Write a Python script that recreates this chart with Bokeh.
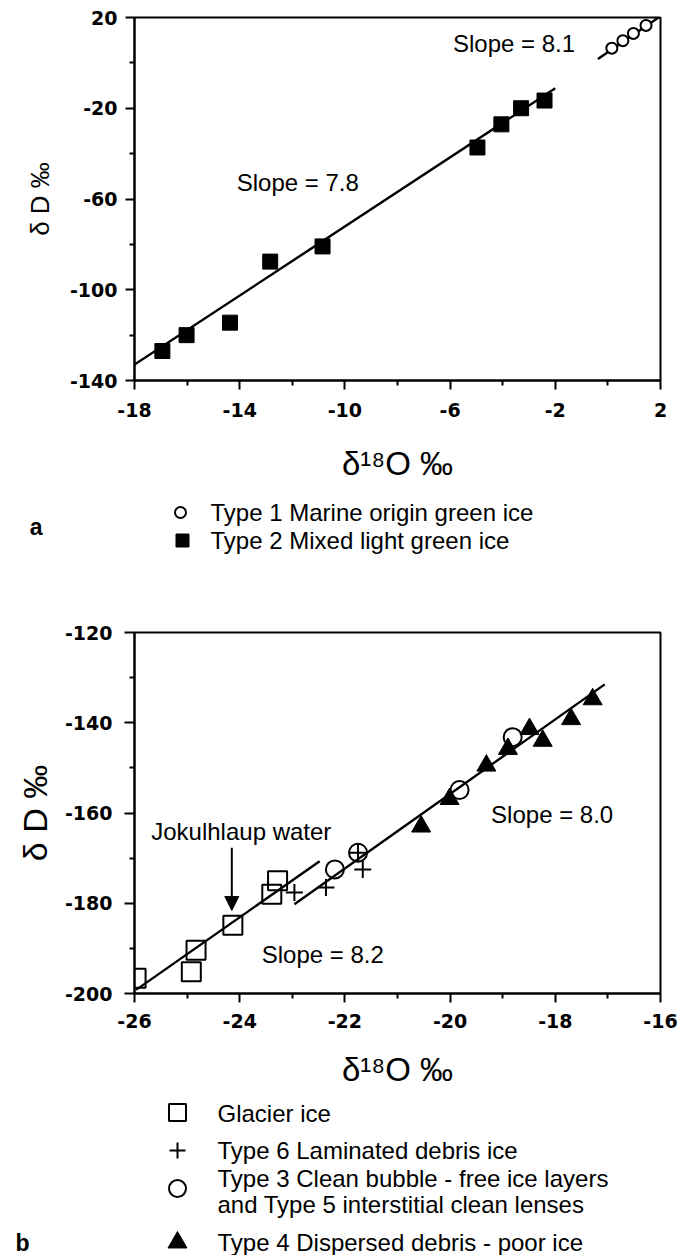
from bokeh.plotting import figure
from bokeh.models import Range1d, FixedTicker, Arrow, NormalHead, Label, LinearAxis
from bokeh.layouts import column
from bokeh.embed import file_html
from bokeh.resources import INLINE
from bokeh.core.properties import value

# ---------------- Panel a data ----------------
a_type1_x = [0.15, 0.57, 0.97, 1.45]          # Type 1 Marine origin green ice
a_type1_y = [6.5, 9.8, 13.0, 16.5]
a_type2_x = [-16.94, -16.02, -14.37, -12.84, -10.85, -4.96, -4.05, -3.30, -2.41]  # Type 2
a_type2_y = [-127.0, -120.0, -114.5, -87.6, -80.9, -37.3, -27.1, -20.0, -16.6]
a_fit78_x = [-18.0, -2.0]
a_fit78_y = [-133.0, -11.2]
a_fit81_x = [-0.38, 1.94]
a_fit81_y = [1.7, 20.1]
a_xticks = [-18, -14, -10, -6, -2, 2]
a_xminor = [-16, -12, -8, -4, 0]
a_yticks = [-140, -100, -60, -20, 20]
a_yminor = [-120, -80, -40, 0]
a_legend_labels = ["Type 1 Marine origin green ice", "Type 2 Mixed light green ice"]

# ---------------- Panel b data ----------------
b_glacier_x = [-23.28, -23.39, -24.13, -24.83, -24.92, -25.97]
b_glacier_y = [-175.0, -178.0, -184.9, -190.4, -195.2, -196.6]
b_type6_x = [-21.66, -21.75, -22.36, -22.96]
b_type6_y = [-172.5, -168.8, -176.5, -177.6]
b_type35_x = [-18.81, -19.82, -21.75, -22.19]
b_type35_y = [-143.2, -154.9, -168.8, -172.5]
b_type4_x = [-17.29, -17.70, -18.24, -18.49, -18.90, -19.31, -20.01, -20.55]
b_type4_y = [-134.8, -139.2, -144.0, -141.4, -145.8, -149.5, -156.9, -163.0]
b_fit80_x = [-22.96, -17.06]
b_fit80_y = [-180.2, -131.5]
b_fit82_x = [-25.97, -22.48]
b_fit82_y = [-199.2, -170.7]
b_xticks = [-26, -24, -22, -20, -18, -16]
b_xminor = [-25, -23, -21, -19, -17]
b_yticks = [-200, -180, -160, -140, -120]
b_yminor = [-190, -170, -150, -130]
b_legend_labels = ["Glacier ice", "Type 6 Laminated debris ice",
                   "Type 3 Clean bubble - free ice layers",
                   "and  Type 5 interstitial clean lenses",
                   "Type 4 Dispersed debris - poor ice"]

FONT = "Liberation Sans"
TICKFONT = "DejaVu Sans"
W = 684
BL, BR = 134, 24          # common left / right borders (frames are aligned in the column)
LW = 2.4


def style(p, xt, xm, yt, ym):
    p.grid.visible = False
    p.outline_line_color = "black"
    p.outline_line_width = 2
    p.background_fill_color = "white"
    p.border_fill_color = "white"
    p.xaxis.ticker = FixedTicker(ticks=xt, minor_ticks=xm)
    p.yaxis.ticker = FixedTicker(ticks=yt, minor_ticks=ym)
    p.xaxis.major_label_overrides = {t: str(t) for t in xt}
    p.yaxis.major_label_overrides = {t: str(t) for t in yt}
    for ax in list(p.xaxis) + list(p.yaxis):
        ax.axis_line_width = 2
        ax.axis_line_color = "black"
        ax.major_tick_line_width = 2
        ax.minor_tick_line_width = 2
        ax.major_tick_in = 0
        ax.major_tick_out = 9
        ax.minor_tick_in = 0
        ax.minor_tick_out = 5
        ax.major_label_text_font = TICKFONT
        ax.major_label_text_font_style = "bold"
        ax.major_label_text_font_size = "19px"
        ax.major_label_text_color = "black"
        ax.axis_label_text_font = FONT
        ax.axis_label_text_font_style = "normal"
        ax.axis_label_text_color = "black"


def blank(h, letter, letter_y, standoff):
    f = figure(width=W, height=h, x_range=Range1d(BL, W - BR), y_range=Range1d(h, 0),
               output_backend="svg", toolbar_location=None,
               min_border_left=BL, min_border_right=BR, min_border_top=0, min_border_bottom=0,
               x_axis_type=None, y_axis_type=None)
    f.grid.visible = False
    f.outline_line_color = None
    f.background_fill_color = "white"
    f.border_fill_color = "white"
    # panel letter drawn as the only tick label of an otherwise invisible axis
    ax = LinearAxis(ticker=FixedTicker(ticks=[letter_y], minor_ticks=[]),
                    major_label_overrides={letter_y: letter},
                    axis_line_color=None, major_tick_line_color=None, minor_tick_line_color=None,
                    major_tick_out=0, major_tick_in=0, minor_tick_out=0, minor_tick_in=0,
                    major_label_standoff=standoff, major_label_text_font=FONT,
                    major_label_text_font_size="23px", major_label_text_font_style="bold",
                    major_label_text_color="black")
    f.add_layout(ax, "left")
    return f


# ---------------- Panel a ----------------
pa = figure(width=W, height=490, x_range=Range1d(-18, 2), y_range=Range1d(-140, 20),
            output_backend="svg", toolbar_location=None,
            min_border_left=BL, min_border_right=BR, min_border_top=17, min_border_bottom=110)
style(pa, a_xticks, a_xminor, a_yticks, a_yminor)
pa.xaxis.axis_label = "δ¹⁸O ‰"
pa.xaxis.axis_label_text_font_size = "33px"
pa.xaxis.axis_label_standoff = 25
pa.xaxis.major_label_standoff = 13
pa.yaxis.axis_label = "δ D ‰"
pa.yaxis.axis_label_text_font_size = "26px"
pa.yaxis.axis_label_standoff = 12
pa.yaxis.major_label_standoff = 8

pa.line(a_fit78_x, a_fit78_y, line_color="black", line_width=LW)
pa.line(a_fit81_x, a_fit81_y, line_color="black", line_width=LW)
pa.scatter(a_type2_x, a_type2_y, marker="square", size=15, fill_color="black", line_color="black")
pa.scatter(a_type1_x, a_type1_y, marker="circle", size=11, fill_color="white",
           line_color="black", line_width=2)
pa.add_layout(Label(x=-3.57, y=8.4, text="Slope = 8.1", text_align="center", text_baseline="middle",
                    text_font=FONT, text_font_size="24px", text_color="black"))
pa.add_layout(Label(x=-11.79, y=-52.6, text="Slope = 7.8", text_align="center", text_baseline="middle",
                    text_font=FONT, text_font_size="24px", text_color="black"))

# ---------------- Legend a ----------------
la = blank(85, "a", 36, 92)
la.scatter([180], [22], marker="circle", size=11, fill_color="white", line_color="black", line_width=2)
la.scatter([182], [50], marker="square", size=13, fill_color="black", line_color="black")
la.text(x=[210, 210], y=[22, 50], text=a_legend_labels, text_font=value(FONT),
        text_font_size="24px", text_baseline="middle", text_align="left", text_color="black")

# ---------------- Panel b ----------------
pb = figure(width=W, height=515, x_range=Range1d(-26, -16), y_range=Range1d(-200, -120),
            output_backend="svg", toolbar_location=None,
            min_border_left=BL, min_border_right=BR, min_border_top=57, min_border_bottom=93)
style(pb, b_xticks, b_xminor, b_yticks, b_yminor)
pb.xaxis.axis_label = "δ¹⁸O ‰"
pb.xaxis.axis_label_text_font_size = "33px"
pb.xaxis.axis_label_standoff = 20
pb.xaxis.major_label_standoff = 11
pb.yaxis.axis_label = "δ D ‰"
pb.yaxis.axis_label_text_font_size = "34px"
pb.yaxis.axis_label_standoff = 8
pb.yaxis.major_label_standoff = 12
pb.yaxis.major_tick_out = 10

pb.line(b_fit80_x, b_fit80_y, line_color="black", line_width=LW)
pb.line(b_fit82_x, b_fit82_y, line_color="black", line_width=LW)
pb.scatter(b_glacier_x, b_glacier_y, marker="square", size=19, fill_color=None,
           line_color="black", line_width=2)
pb.scatter(b_type6_x, b_type6_y, marker="cross", size=17, line_color="black", line_width=2)
pb.scatter(b_type35_x, b_type35_y, marker="circle", size=18, fill_color=None,
           line_color="black", line_width=2)
pb.scatter(b_type4_x, b_type4_y, marker="triangle", size=19, fill_color="black", line_color="black")
pb.add_layout(Arrow(end=NormalHead(size=14, fill_color="black", line_color="black"),
                    x_start=-24.15, y_start=-167.7, x_end=-24.15, y_end=-181.6,
                    line_width=2, line_color="black"))
pb.add_layout(Label(x=-23.97, y=-164.0, text="Jokulhlaup water", text_align="center",
                    text_baseline="middle", text_font=FONT, text_font_size="24px", text_color="black"))
pb.add_layout(Label(x=-18.06, y=-160.4, text="Slope = 8.0", text_align="center",
                    text_baseline="middle", text_font=FONT, text_font_size="24px", text_color="black"))
pb.add_layout(Label(x=-22.42, y=-191.4, text="Slope = 8.2", text_align="center",
                    text_baseline="middle", text_font=FONT, text_font_size="24px", text_color="black"))

# ---------------- Legend b ----------------
lb = blank(165, "b", 152, 105)
lb.scatter([177], [22], marker="square", size=17, fill_color=None, line_color="black", line_width=2)
lb.scatter([177], [60], marker="cross", size=16, line_color="black", line_width=2)
lb.scatter([177], [98], marker="circle", size=17, fill_color=None, line_color="black", line_width=2)
lb.scatter([177], [152], marker="triangle", size=19, fill_color="black", line_color="black")
lb.text(x=[217] * 5, y=[23, 60, 88, 114, 152], text=b_legend_labels, text_font=value(FONT),
        text_font_size="24px", text_baseline="middle", text_align="left", text_color="black")

layout = column(pa, la, pb, lb)
open("out.html", "w").write(file_html(layout, INLINE))
